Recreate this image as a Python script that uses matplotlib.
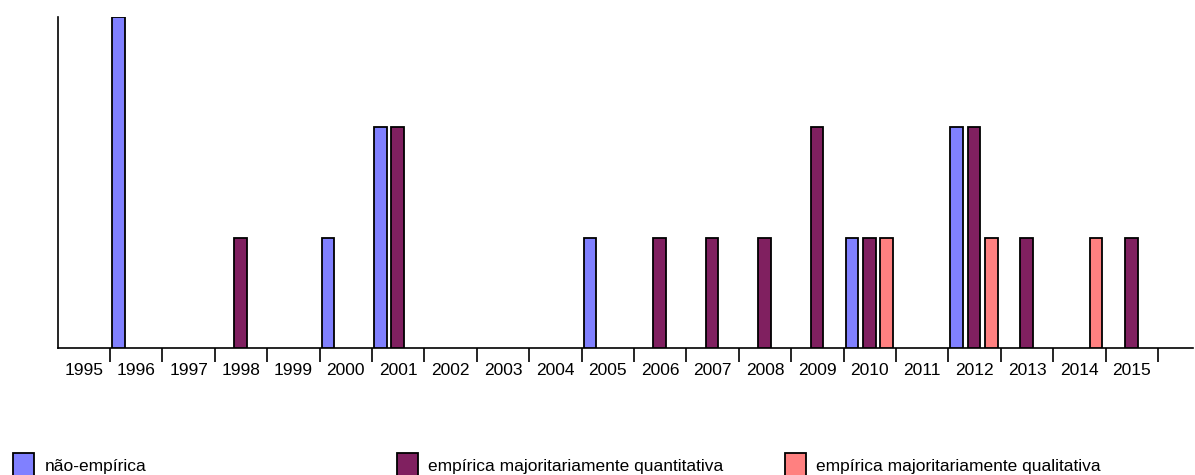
import matplotlib.pyplot as plt
from matplotlib.patches import Rectangle
import numpy as np

# years shown on the category axis
years = list(range(1995, 2016))

# number of publications per year and type
nao_empirica = [0, 3, 0, 0, 0, 1, 2, 0, 0, 0, 1, 0, 0, 0, 0, 1, 0, 2, 0, 0, 0]
quantitativa = [0, 0, 0, 1, 0, 0, 2, 0, 0, 0, 0, 1, 1, 1, 2, 1, 0, 2, 1, 0, 1]
qualitativa = [0, 0, 0, 0, 0, 0, 0, 0, 0, 0, 0, 0, 0, 0, 0, 1, 0, 1, 0, 1, 0]

labels = ['não-empírica', 'empírica majoritariamente quantitativa',
          'empírica majoritariamente qualitativa']
colors = ['#8080FF', '#802060', '#FF8080']

plt.rcParams['font.family'] = ['Liberation Sans', 'DejaVu Sans']

W, H = 1195, 475
fig = plt.figure(figsize=(W / 100, H / 100), dpi=100)
# axes in pixel terms: left 57.6, right 1193, top 17, bottom 348
left = 57.6
slot = 52.4
ax = fig.add_axes([left / W, (H - 348) / H, (1193 - left) / W, (348 - 17) / H])

x = np.arange(len(years))
bw = 0.24
offsets = [0.16, 0.49, 0.82]
for vals, off, c in zip([nao_empirica, quantitativa, qualitativa], offsets, colors):
    vals = np.array(vals)
    mask = vals > 0
    ax.bar(x[mask] + off, vals[mask], width=bw, color=c, edgecolor='black',
           linewidth=1.3, zorder=3)

ax.set_xlim(0, (1193 - left) / slot)
ax.set_ylim(0, 3)

# category boundaries as major ticks, year labels centred as minor ticks
ax.set_xticks(np.arange(1, len(years) + 1))
ax.set_xticklabels([])
ax.tick_params(axis='x', which='major', direction='out', length=10, width=1.2,
               color='black')
ax.set_xticks(x + 0.5, minor=True)
ax.set_xticklabels([str(y) for y in years], minor=True, fontsize=12.5)
ax.tick_params(axis='x', which='minor', length=0, pad=10.5)
ax.set_yticks([])

for s in ['top', 'right']:
    ax.spines[s].set_visible(False)
for s in ['left', 'bottom']:
    ax.spines[s].set_linewidth(1.2)
    ax.spines[s].set_color('black')

# legend along the bottom edge
sq_x = [13, 397, 785]
tx_x = [45, 428, 816]
for sx, tx, c, lab in zip(sq_x, tx_x, colors, labels):
    fig.patches.append(Rectangle((sx / W, -2 / H), 21 / W, 24 / H,
                                 transform=fig.transFigure, facecolor=c,
                                 edgecolor='black', linewidth=1.3))
    fig.text(tx / W, 8 / H, lab, fontsize=12.5, va='center', ha='left')

fig.savefig('out.png', dpi=100)
